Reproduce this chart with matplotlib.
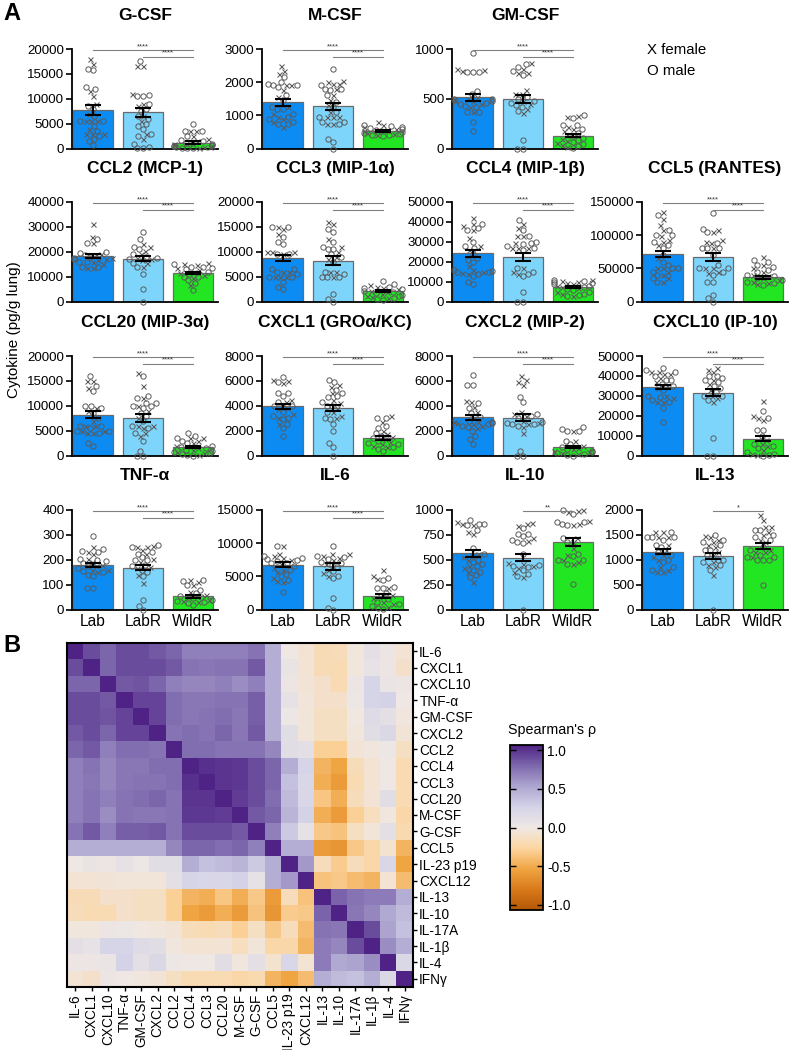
import numpy as np
import matplotlib
matplotlib.use('Agg')
import matplotlib.pyplot as plt
from matplotlib.colors import LinearSegmentedColormap, Normalize
from matplotlib.cm import ScalarMappable

plt.rcParams['font.family'] = ['Liberation Sans', 'DejaVu Sans']

# ---------------- data: panel A ----------------
groups = ['Lab', 'LabR', 'WildR']

gcsf_mean = [7700, 7250, 1200]; gcsf_sem = [1000, 850, 250]
gcsf_f = [[18000, 17000, 11500, 10500, 9000, 7000, 5500, 5500, 5500, 4000, 3000, 3000, 3000],
          [16500, 16500, 11000, 9000, 8500, 6500, 5500, 3000, 2000],
          [3500, 3500, 2500, 2000, 1500, 1200, 1000, 800, 600, 400, 300, 200]]
gcsf_m = [[16000, 15700, 12300, 12000, 8500, 8000, 6500, 5500, 5500, 4500, 3500, 2500, 2000, 1500, 700],
          [17500, 10700, 10500, 10500, 9000, 8000, 7500, 6500, 6000, 5000, 4500, 4000, 3000, 2500, 1000, 300, 100, 100],
          [5000, 3500, 3500, 2500, 1800, 1500, 1200, 1000, 800, 600, 500, 300, 200, 100, 100]]

mcsf_mean = [1390, 1270, 533]; mcsf_sem = [100, 115, 30]
mcsf_f = [[2500, 2350, 2250, 1900, 1900, 1750, 1550, 1250, 1050, 950, 900, 800, 650],
          [2050, 2000, 1950, 1950, 1800, 1600, 1450, 1300, 1100, 950, 950, 950, 750, 750],
          [800, 700, 650, 600, 560, 520, 480, 450, 400]]
mcsf_m = [[2150, 2000, 1950, 1900, 1900, 1850, 1600, 1450, 1250, 1200, 1200, 1050, 950, 900, 800, 750, 750],
          [2400, 1900, 1800, 1800, 1750, 1600, 1400, 1250, 1100, 950, 800, 750, 800, 300, 200, 0],
          [700, 680, 650, 620, 600, 560, 540, 500, 480, 450, 420, 400, 380]]

gmcsf_mean = [513, 497, 127]; gmcsf_sem = [34, 37, 15]
gmcsf_f = [[800, 780, 790, 520, 500, 480, 480, 450, 420, 370, 500],
           [860, 800, 760, 760, 590, 550, 550, 480, 400, 360, 450],
           [330, 320, 220, 200, 180, 140, 100, 80, 60, 40, 20]]
gmcsf_m = [[960, 770, 770, 770, 580, 550, 500, 500, 460, 450, 430, 420, 370, 370, 270, 180, 480],
           [850, 820, 780, 740, 520, 500, 480, 460, 440, 420, 380, 90, 0, 0],
           [340, 310, 240, 240, 200, 160, 130, 110, 90, 70, 50, 30, 10]]

ccl2_mean = [18200, 17240, 11450]; ccl2_sem = [800, 1000, 500]
ccl2_f = [[31000, 26000, 23500, 19000, 18500, 17500, 17000, 16500, 15000, 13500, 13500, 16000],
          [23000, 22000, 20500, 19000, 17000, 16500, 15500, 14000, 17500],
          [15500, 15000, 14500, 13500, 12000, 11500, 10500, 9500, 6500, 12500]]
ccl2_m = [[25000, 23500, 20000, 19500, 18000, 17000, 16000, 16000, 14000, 14000, 17500, 18500],
          [28000, 25000, 22000, 21000, 19000, 18000, 17000, 17500, 15500, 14000, 11000, 5000, 0],
          [15000, 14000, 14000, 13500, 13000, 11000, 10000, 10000, 8500, 7500, 4500, 12000]]

ccl3_mean = [8750, 8215, 2020]; ccl3_sem = [670, 840, 200]
ccl3_f = [[15000, 14500, 13500, 10000, 10000, 10000, 9500, 6000, 5000, 5000, 5000, 6000],
          [16000, 15500, 12500, 11000, 10000, 9000, 8500, 6000, 5000, 6000],
          [3300, 3000, 2800, 2500, 2200, 1900, 1500, 1200, 900, 700]]
ccl3_m = [[15000, 15000, 13000, 12000, 11500, 9500, 9500, 6500, 6500, 6000, 5500, 5000, 5000, 4000, 3000, 2500],
          [14500, 14000, 12000, 11000, 10500, 10500, 9500, 9000, 8000, 6000, 5500, 5000, 5000, 5000, 1500, 500, 0],
          [4200, 3500, 3000, 2800, 2500, 2200, 2000, 1700, 1400, 1100, 800, 600, 400]]

ccl4_mean = [24200, 22500, 7500]; ccl4_sem = [1830, 2080, 500]
ccl4_f = [[42000, 39000, 38000, 36000, 32000, 28000, 26000, 18000, 16000, 15000, 14000, 14500],
          [39000, 37000, 33000, 33000, 29500, 27000, 27000, 27000, 17000, 15000, 14000],
          [11000, 10500, 10000, 9500, 9000, 8000, 7500, 7000, 5000, 4000, 3000]]
ccl4_m = [[39000, 37000, 36000, 30000, 28000, 27000, 24000, 22000, 21000, 20000, 16000, 15000, 15000, 14000, 15500, 13000, 10000, 9000],
          [41000, 36000, 33000, 30000, 29000, 29500, 27000, 26000, 28000, 17000, 15000, 14000, 13000, 5000, 0, 0],
          [11000, 10500, 10000, 9500, 9000, 8000, 7500, 6500, 6000, 5000, 4000, 3500, 3000]]

ccl5_mean = [71500, 67500, 36500]; ccl5_sem = [5000, 6000, 2000]
ccl5_f = [[135000, 125000, 115000, 108000, 98000, 93000, 90000, 85000, 65000, 50000, 45000, 50000, 40000, 35000, 30000],
          [108000, 105000, 92000, 88000, 80000, 50000, 50000, 45000, 43000, 90000],
          [67000, 55000, 50000, 45000, 40000, 38000, 35000, 32000, 30000, 28000, 26000]]
ccl5_m = [[130000, 108000, 100000, 100000, 90000, 85000, 80000, 70000, 60000, 55000, 50000, 45000, 50000, 40000, 35000, 30000],
          [133000, 110000, 105000, 88000, 80000, 80000, 80000, 70000, 55000, 50000, 50000, 45000, 40000, 30000, 30000, 10000, 5000, 0],
          [62000, 60000, 55000, 52000, 47000, 45000, 40000, 38000, 35000, 32000, 30000, 28000, 25000]]

ccl20_mean = [8190, 7580, 1680]; ccl20_sem = [670, 840, 200]
ccl20_f = [[15000, 15000, 13500, 9500, 9000, 6000, 6000, 5000, 4500, 5000, 4500, 7000],
           [16500, 14000, 11500, 10000, 9000, 7500, 6000, 6000, 5500, 4500, 4000],
           [3500, 3500, 3000, 2500, 2000, 1500, 1200, 800, 500, 200]]
ccl20_m = [[16000, 14000, 13000, 10000, 10000, 9500, 8500, 6000, 6000, 5500, 5000, 5000, 4500, 2500, 2000, 7500],
           [16000, 12000, 11500, 10500, 10500, 10000, 10000, 9500, 8500, 8000, 7000, 6000, 5500, 4500, 3000, 1000, 0, 0],
           [4500, 4000, 3500, 3000, 2500, 2000, 1800, 1500, 1200, 1000, 800, 500, 300, 100, 0]]

cxcl1_mean = [3970, 3810, 1400]; cxcl1_sem = [200, 270, 130]
cxcl1_f = [[6100, 6000, 5800, 4500, 4300, 3800, 3700, 3300, 3000, 2500, 4000],
           [5700, 5500, 5000, 4500, 3800, 3500, 3200, 3000, 4200],
           [3200, 2700, 2000, 1700, 1500, 1300, 1100, 900, 800, 700]]
cxcl1_m = [[6300, 5900, 5000, 5000, 4800, 4300, 4000, 4000, 3500, 3200, 3000, 2900, 2500, 2200, 1600],
           [6100, 5900, 5300, 5000, 4800, 4700, 4300, 4000, 4000, 3500, 3000, 2900, 2500, 2000, 1000, 700, 0],
           [3000, 3000, 2400, 2200, 1800, 1600, 1400, 1200, 1000, 900, 700, 500, 400]]

cxcl2_mean = [3090, 3030, 670]; cxcl2_sem = [200, 270, 100]
cxcl2_f = [[4400, 4300, 3900, 3500, 3000, 2700, 2600, 2500, 2400, 2700, 2200],
           [6400, 6100, 5900, 5700, 3500, 3300, 3200, 2800, 2600, 2500, 2300, 1800],
           [2000, 1200, 800, 600, 500, 400, 300, 200, 100]]
cxcl2_m = [[6500, 5700, 5700, 4200, 3800, 3400, 3100, 2800, 2700, 2600, 2500, 2400, 2300, 2000, 1600, 1300, 900],
           [4700, 4300, 3300, 3200, 3000, 2700, 2600, 2500, 2500, 2400, 400, 0, 0],
           [2300, 2100, 2000, 2000, 1200, 900, 700, 500, 400, 300, 200, 100, 50, 0]]

cxcl10_mean = [34400, 31500, 8400]; cxcl10_sem = [1000, 1680, 1260]
cxcl10_f = [[42000, 42000, 41000, 41000, 39000, 37000, 35000, 34000, 30000, 29000, 27000, 27000],
            [44000, 43000, 42000, 38000, 36000, 33000, 30000, 29000, 27000],
            [27500, 20000, 19000, 18000, 8000, 6000, 5000, 3000, 1000, 500]]
cxcl10_m = [[44000, 43000, 42000, 40000, 38000, 38000, 36000, 35000, 33000, 30000, 29500, 28000, 27000, 24000, 17000],
            [40000, 40000, 39000, 38000, 37000, 35000, 34000, 32000, 30000, 30000, 28000, 9000, 0, 0],
            [22500, 19000, 13000, 13000, 10000, 6000, 5000, 4000, 2000, 1000, 500, 0]]

tnf_mean = [180, 167, 53]; tnf_sem = [8, 10, 5]
tnf_f = [[250, 230, 225, 205, 190, 175, 160, 160, 150, 180],
         [255, 250, 250, 240, 225, 205, 190, 170, 165, 140, 105],
         [120, 110, 100, 70, 60, 50, 40, 35, 30]]
tnf_m = [[295, 245, 235, 230, 205, 200, 195, 185, 175, 165, 155, 150, 140, 135, 85, 85],
         [260, 250, 230, 225, 210, 200, 200, 180, 175, 160, 150, 135, 40, 15, 0],
         [120, 115, 100, 80, 65, 55, 50, 45, 40, 35, 30, 25, 20]]

il6_mean = [6750, 6500, 2000]; il6_sem = [350, 500, 330]
il6_f = [[9600, 8000, 7700, 7500, 6800, 6300, 6000, 5600, 4800, 4200, 4300, 8300],
         [8400, 8300, 8000, 7800, 7500, 6800, 6000, 5500, 5000],
         [5900, 5000, 4600, 3300, 2200, 1700, 1200, 800, 400]]
il6_m = [[9600, 8000, 7800, 7600, 7500, 7300, 7000, 7000, 6500, 6000, 5300, 5000, 4500, 2700],
         [9500, 8100, 7900, 7600, 7200, 7000, 6700, 6400, 5800, 5000, 4800, 1800, 300, 0],
         [4800, 4500, 3400, 3300, 3200, 2500, 2000, 1600, 1200, 900, 600, 300, 100]]

il10_mean = [566, 519, 678]; il10_sem = [36, 36, 40]
il10_f = [[880, 860, 850, 780, 760, 560, 530, 500, 440, 420, 380, 280],
          [870, 860, 840, 720, 690, 470, 460, 440, 420, 380, 330],
          [1000, 990, 980, 890, 860, 850, 720, 680, 620, 550, 500, 480, 460]]
il10_m = [[900, 860, 855, 850, 800, 620, 560, 540, 500, 480, 460, 440, 400, 380, 350, 330],
          [820, 760, 760, 740, 700, 680, 670, 560, 450, 440, 430, 400, 360, 340, 0],
          [1000, 960, 880, 880, 850, 860, 720, 680, 560, 540, 500, 500, 460, 260]]

il13_mean = [1158, 1077, 1280]; il13_sem = [50, 54, 54]
il13_f = [[1550, 1550, 1450, 1450, 1300, 1200, 1100, 1050, 1000, 850, 800, 750, 750],
          [1480, 1450, 1400, 1350, 1300, 1250, 1150, 1100, 950, 900, 850, 700],
          [1900, 1800, 1650, 1650, 1550, 1500, 1400, 1350, 1200, 1150, 1150, 1050]]
il13_m = [[1550, 1450, 1450, 1450, 1400, 1300, 1250, 1150, 1100, 1000, 950, 850, 800],
          [1500, 1400, 1350, 1300, 1200, 1200, 1100, 1000, 1000, 950, 900, 800, 0],
          [1600, 1600, 1500, 1450, 1400, 1250, 1200, 1100, 1050, 1050, 1000, 1000, 1000, 500]]

sig_both = [(0, 2, '****'), (1, 2, '****')]
sig_il10 = [(1, 2, '**')]
sig_il13 = [(1, 2, '*')]

# ---------------- data: panel B ----------------
cytokines = ['IL-6', 'CXCL1', 'CXCL10', 'TNF-α', 'GM-CSF', 'CXCL2', 'CCL2', 'CCL4', 'CCL3',
             'CCL20', 'M-CSF', 'G-CSF', 'CCL5', 'IL-23 p19', 'CXCL12', 'IL-13', 'IL-10',
             'IL-17A', 'IL-1β', 'IL-4', 'IFNγ']
rho_lower = [
    [],
    [0.85],
    [0.75, 0.75],
    [0.85, 0.85, 0.80],
    [0.85, 0.85, 0.82, 0.88],
    [0.80, 0.85, 0.75, 0.88, 0.88],
    [0.75, 0.80, 0.65, 0.72, 0.72, 0.70],
    [0.65, 0.70, 0.62, 0.68, 0.68, 0.72, 0.72],
    [0.65, 0.68, 0.62, 0.68, 0.70, 0.70, 0.72, 0.95],
    [0.65, 0.70, 0.65, 0.70, 0.72, 0.75, 0.70, 0.93, 0.93],
    [0.65, 0.70, 0.60, 0.70, 0.68, 0.68, 0.70, 0.92, 0.92, 0.90],
    [0.70, 0.80, 0.65, 0.78, 0.78, 0.80, 0.70, 0.85, 0.85, 0.85, 0.80],
    [0.45, 0.45, 0.45, 0.45, 0.45, 0.45, 0.62, 0.75, 0.75, 0.72, 0.75, 0.65],
    [0.00, 0.05, 0.03, 0.08, 0.02, 0.12, 0.12, 0.45, 0.35, 0.38, 0.42, 0.30, 0.45],
    [-0.06, -0.06, -0.05, -0.04, -0.04, -0.04, 0.10, 0.22, 0.20, 0.20, 0.25, 0.08, 0.45, 0.55],
    [-0.17, -0.17, -0.10, -0.10, -0.12, -0.12, -0.28, -0.42, -0.45, -0.33, -0.45, -0.32, -0.55, -0.15, -0.35],
    [-0.15, -0.18, -0.18, -0.10, -0.12, -0.12, -0.28, -0.50, -0.55, -0.45, -0.55, -0.35, -0.58, -0.30, -0.32, 0.76],
    [-0.03, -0.03, 0.03, 0.02, -0.01, -0.03, -0.05, -0.16, -0.18, -0.15, -0.28, -0.12, -0.32, -0.15, -0.38, 0.70, 0.68],
    [0.10, 0.07, 0.22, 0.23, 0.15, 0.12, -0.02, -0.07, -0.07, -0.06, -0.14, -0.04, -0.22, -0.22, -0.42, 0.67, 0.62, 0.85],
    [0.03, 0.03, 0.04, 0.25, 0.10, 0.18, 0.02, 0.00, 0.00, 0.12, -0.02, 0.10, -0.08, 0.20, -0.07, 0.67, 0.48, 0.50, 0.60],
    [-0.06, -0.10, 0.03, 0.00, -0.02, -0.05, -0.12, -0.18, -0.18, -0.18, -0.22, -0.20, -0.42, -0.50, -0.38, 0.45, 0.38, 0.35, 0.45, 0.18],
]

# ---------------- figure ----------------
W, H = 796, 1050
fig = plt.figure(figsize=(W / 100, H / 100), dpi=100)


def rect(x0, y0, w, h):
    return [x0 / W, 1 - (y0 + h) / H, w / W, h / H]


bar_colors = ['#0C8BF2', '#7ED5FC', '#22E622']
pt_color = '#5a5a5a'

panels = [
    ('G-CSF', 20000, 5000, gcsf_mean, gcsf_sem, gcsf_f, gcsf_m, sig_both, 0, 0),
    ('M-CSF', 3000, 1000, mcsf_mean, mcsf_sem, mcsf_f, mcsf_m, sig_both, 0, 1),
    ('GM-CSF', 1000, 500, gmcsf_mean, gmcsf_sem, gmcsf_f, gmcsf_m, sig_both, 0, 2),
    ('CCL2 (MCP-1)', 40000, 10000, ccl2_mean, ccl2_sem, ccl2_f, ccl2_m, sig_both, 1, 0),
    ('CCL3 (MIP-1α)', 20000, 5000, ccl3_mean, ccl3_sem, ccl3_f, ccl3_m, sig_both, 1, 1),
    ('CCL4 (MIP-1β)', 50000, 10000, ccl4_mean, ccl4_sem, ccl4_f, ccl4_m, sig_both, 1, 2),
    ('CCL5 (RANTES)', 150000, 50000, ccl5_mean, ccl5_sem, ccl5_f, ccl5_m, sig_both, 1, 3),
    ('CCL20 (MIP-3α)', 20000, 5000, ccl20_mean, ccl20_sem, ccl20_f, ccl20_m, sig_both, 2, 0),
    ('CXCL1 (GROα/KC)', 8000, 2000, cxcl1_mean, cxcl1_sem, cxcl1_f, cxcl1_m, sig_both, 2, 1),
    ('CXCL2 (MIP-2)', 8000, 2000, cxcl2_mean, cxcl2_sem, cxcl2_f, cxcl2_m, sig_both, 2, 2),
    ('CXCL10 (IP-10)', 50000, 10000, cxcl10_mean, cxcl10_sem, cxcl10_f, cxcl10_m, sig_both, 2, 3),
    ('TNF-α', 400, 100, tnf_mean, tnf_sem, tnf_f, tnf_m, sig_both, 3, 0),
    ('IL-6', 15000, 5000, il6_mean, il6_sem, il6_f, il6_m, sig_both, 3, 1),
    ('IL-10', 1000, 250, il10_mean, il10_sem, il10_f, il10_m, sig_il10, 3, 2),
    ('IL-13', 2000, 500, il13_mean, il13_sem, il13_f, il13_m, sig_il13, 3, 3),
]

col_x = [72, 262, 452, 642]
row_top = [49, 202, 356, 510]
ax_w, ax_h = 146, 99.5
XLIM = (-0.42, 2.50)
PPU_X = ax_w / (XLIM[1] - XLIM[0])


def swarm(vals, ppu_y, d=5.6, maxw=19.0):
    vals = np.asarray(vals, float)
    order = np.argsort(vals, kind='stable')
    placed = []
    xs = np.zeros(len(vals))
    for i in order:
        y = vals[i] * ppu_y
        near = [(px, py) for px, py in placed if abs(py - y) < d]
        cands = [0.0]
        for px, py in near:
            dx = np.sqrt(max(d * d - (py - y) ** 2, 0))
            cands += [px + dx, px - dx]
        cands.sort(key=lambda c: (abs(c), c))
        best = 0.0
        for c in cands:
            if all((c - px) ** 2 + (y - py) ** 2 >= d * d - 1e-6 for px, py in near):
                best = c
                break
        best = max(-maxw, min(maxw, best))
        placed.append((best, y))
        xs[i] = best / PPU_X
    return xs


for (title, ymax, step, means, sems, fvals, mvals, sigs, r, c) in panels:
    ax = fig.add_axes(rect(col_x[c], row_top[r], ax_w, ax_h))
    xpos = np.arange(3)
    ax.bar(xpos, means, width=0.8, color=bar_colors, edgecolor='#6a6a6a', linewidth=0.9, zorder=2)
    ppu_y = ax_h / ymax
    for g in range(3):
        vals = list(fvals[g]) + list(mvals[g])
        sex = ['f'] * len(fvals[g]) + ['m'] * len(mvals[g])
        offs = swarm(vals, ppu_y)
        for v, s, o in zip(vals, sex, offs):
            if s == 'f':
                ax.plot(g + o, v, marker='x', ms=3.6, mew=0.75, color=pt_color, ls='none',
                        zorder=3, clip_on=False)
            else:
                ax.plot(g + o, v, marker='o', ms=3.8, mew=0.7, mfc='none', mec=pt_color, ls='none',
                        zorder=3, clip_on=False)
    ax.errorbar(xpos, means, yerr=sems, fmt='none', ecolor='black', elinewidth=1.5,
                capsize=5.5, capthick=1.5, zorder=4)
    levels = [0.985, 0.92]
    for k, (a, b, txt) in enumerate(sigs):
        yl = levels[k] * ymax
        ax.plot([a, b], [yl, yl], color='#808080', lw=0.8, zorder=5, clip_on=False)
        ax.text((a + b) / 2, yl + 0.005 * ymax, txt, ha='center', va='bottom', fontsize=5.5,
                color='#333333', zorder=6)
    ax.set_xlim(*XLIM)
    ax.set_ylim(0, ymax)
    ax.set_yticks(np.arange(0, ymax + step / 2, step))
    ax.yaxis.set_major_formatter(matplotlib.ticker.FuncFormatter(lambda v, p: f'{int(round(v))}'))
    for sp in ['top', 'right']:
        ax.spines[sp].set_visible(False)
    for sp in ['left', 'bottom']:
        ax.spines[sp].set_linewidth(1.3)
    ax.tick_params(axis='y', length=4, width=1.2, labelsize=9.6, pad=1.5)
    ax.set_xticks(xpos)
    if r == 3:
        ax.set_xticklabels(groups, fontsize=11.2)
        ax.tick_params(axis='x', length=0, pad=3)
    else:
        ax.set_xticklabels([])
        ax.tick_params(axis='x', length=0)
    fig.text((col_x[c] + ax_w / 2) / W, 1 - (row_top[r] - 34) / H, title, ha='center', va='center',
             fontsize=12.5, fontweight='bold')

fig.text(647 / W, 1 - 50 / H, 'X female', ha='left', va='center', fontsize=10.8)
fig.text(647 / W, 1 - 71 / H, 'O male', ha='left', va='center', fontsize=10.8)
fig.text(14 / W, 1 - 330 / H, 'Cytokine (pg/g lung)', rotation=90, ha='center', va='center', fontsize=11)
fig.text(3 / W, 1 - 13 / H, 'A', ha='left', va='center', fontsize=17, fontweight='bold')
fig.text(3 / W, 1 - 646 / H, 'B', ha='left', va='center', fontsize=17, fontweight='bold')

# ---------------- panel B heatmap ----------------
n = len(cytokines)
rho = np.eye(n)
for i, row in enumerate(rho_lower):
    for j, v in enumerate(row):
        rho[i, j] = v
        rho[j, i] = v

cmap = LinearSegmentedColormap.from_list('puor', [
    '#b35806', '#d97a1a', '#f0a543', '#fcd6a2', '#efe8e4', '#d4d3e8', '#aea6d0', '#7d68ad', '#4f2386'])

axh = fig.add_axes(rect(67, 643, 346, 344))
axh.imshow(rho, cmap=cmap, vmin=-1, vmax=1, aspect='auto', interpolation='nearest')
axh.set_xticks(range(n))
axh.set_xticklabels(cytokines, rotation=90, fontsize=9.8)
axh.set_yticks(range(n))
axh.set_yticklabels(cytokines, fontsize=9.8)
axh.yaxis.tick_right()
axh.tick_params(axis='both', length=3, width=1, pad=1.5)
for sp in axh.spines.values():
    sp.set_linewidth(1.5)

axc = fig.add_axes(rect(510, 745, 33, 165))
cb = fig.colorbar(ScalarMappable(norm=Normalize(-1.065, 1.065), cmap=cmap), cax=axc)
cb.set_ticks([1.0, 0.5, 0.0, -0.5, -1.0])
cb.set_ticklabels(['1.0', '0.5', '0.0', '-0.5', '-1.0'])
cb.outline.set_linewidth(1.3)
axc.tick_params(axis='y', direction='in', left=True, right=True, length=4, width=1,
                labelsize=9.8, pad=3)
fig.text(508 / W, 1 - 730 / H, "Spearman's ρ", ha='left', va='center', fontsize=10.3)

fig.savefig('out.png', dpi=100)
